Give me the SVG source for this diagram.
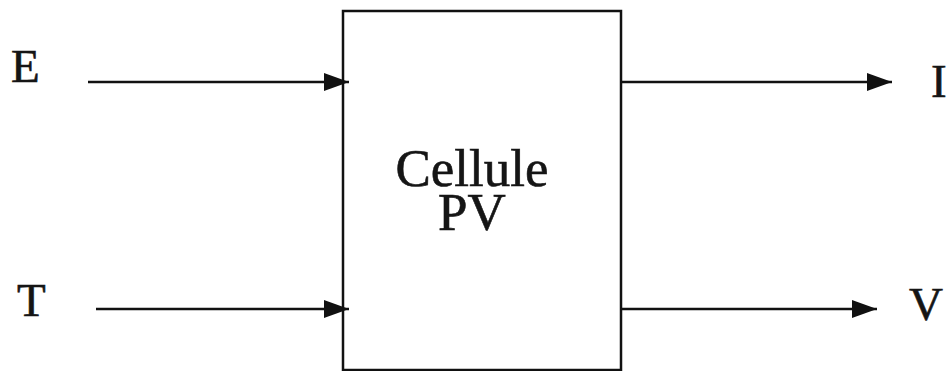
<svg xmlns="http://www.w3.org/2000/svg" width="952" height="371" viewBox="0 0 952 371">
<style>
.ln{stroke:#111;stroke-width:2.5;fill:none}
.t{font-family:"Liberation Serif","Times New Roman",serif;fill:#151515;stroke:#151515;stroke-width:0.6}
</style>
<defs>
<marker id="ah" markerUnits="userSpaceOnUse" markerWidth="26" markerHeight="20" refX="25" refY="9" orient="auto">
<path d="M0,0 L25,9 L0,18 Z" fill="#111"/>
</marker>
</defs>
<rect width="952" height="371" fill="#fff"/>
<g id="cellule">
<rect x="343" y="11" width="278" height="359" class="ln"/>
<text class="t" x="472" y="186" font-size="53" text-anchor="middle">Cellule</text>
<text class="t" x="472" y="230" font-size="53" text-anchor="middle">PV</text>
</g>
<g id="E"><text class="t" x="11" y="82" font-size="47">E</text></g>
<g id="T"><text class="t" x="17" y="316" font-size="47">T</text></g>
<g id="I"><text class="t" x="931" y="97" font-size="47">I</text></g>
<g id="V"><text class="t" x="909" y="320" font-size="47">V</text></g>
<g id="connectors">
<line x1="88" y1="82" x2="349" y2="82" class="ln" marker-end="url(#ah)"/>
<line x1="96" y1="309" x2="349" y2="309" class="ln" marker-end="url(#ah)"/>
<line x1="621" y1="82" x2="892" y2="82" class="ln" marker-end="url(#ah)"/>
<line x1="620" y1="309" x2="877" y2="309" class="ln" marker-end="url(#ah)"/>
</g>
</svg>
